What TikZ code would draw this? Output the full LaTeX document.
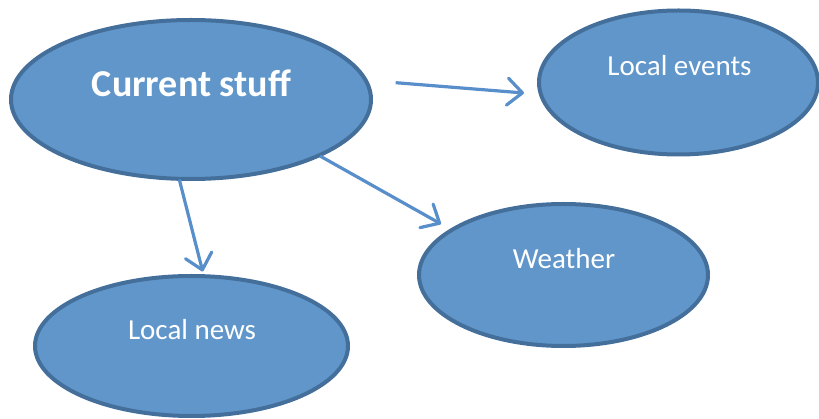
\documentclass[tikz,border=0pt]{standalone}
\usepackage{fontspec}
\setmainfont{Carlito}
\usetikzlibrary{shapes.geometric,arrows.meta}
\definecolor{ellfill}{RGB}{96,150,202}
\definecolor{ellline}{RGB}{68,111,155}
\definecolor{arrcol}{RGB}{88,142,202}
\tikzset{
  bubble/.style={ellipse, draw=ellline, fill=ellfill, line width=4pt, inner sep=0pt},
  lbl/.style={text=white, anchor=base, inner sep=0pt, font=\fontsize{29}{31}\selectfont},
  biglbl/.style={text=white, anchor=base, inner sep=0pt, font=\fontsize{38}{41}\selectfont\bfseries},
  conn/.style={draw=arrcol, line width=3.2pt, -{Straight Barb[length=15pt,width=27pt,round]}}
}
\begin{document}
\begin{tikzpicture}[x=1pt,y=-1pt]
\useasboundingbox (0,0) rectangle (819,419);
\node[bubble, minimum width=360pt, minimum height=159pt] (cs) at (191,99.5) {};
\node[bubble, minimum width=279pt, minimum height=144pt] (le) at (678.5,82.5) {};
\node[bubble, minimum width=289pt, minimum height=142pt] (we) at (563.5,275) {};
\node[bubble, minimum width=313pt, minimum height=140pt] (ln) at (191.5,346) {};
\node[biglbl] (cst) at (191.5,96.5) {Current stuff};
\node[lbl] (let) at (679.5,76) {Local events};
\node[lbl] (wet) at (564,269) {Weather};
\node[lbl] (lnt) at (192,340) {Local news};
\coordinate (a1s) at (395.7,82.7);
\coordinate (a1e) at (524,93);
\coordinate (a2s) at (320,156);
\coordinate (a2e) at (441,224);
\coordinate (a3s) at (179.3,179.5);
\coordinate (a3e) at (202.7,271.5);
\draw[conn] (a1s) -- (a1e);
\draw[conn] (a2s) -- (a2e);
\draw[conn] (a3s) -- (a3e);
\end{tikzpicture}
\end{document}
